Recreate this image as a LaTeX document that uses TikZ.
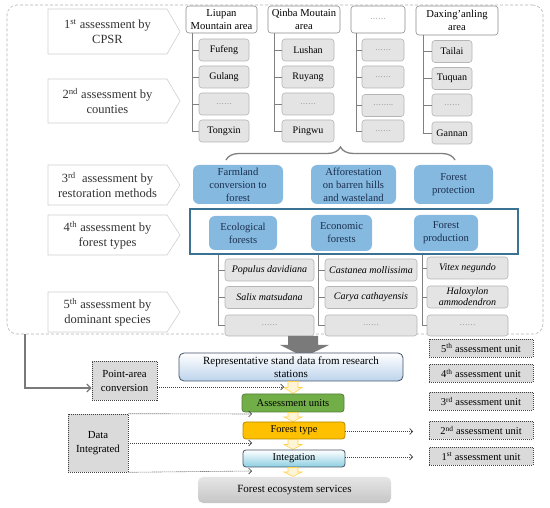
\documentclass[tikz,border=0pt]{standalone}
\usepackage{fontspec}
\setmainfont{Liberation Serif}
\usetikzlibrary{arrows.meta,decorations.pathreplacing,calc}
\definecolor{labtext}{HTML}{333333}
\definecolor{pentborder}{HTML}{CFCFCF}
\definecolor{hdborder}{HTML}{8C8C8C}
\definecolor{sbborder}{HTML}{B5B5B5}
\definecolor{sbfill}{HTML}{E4E4E4}
\definecolor{treegray}{HTML}{808080}
\definecolor{bluefill}{HTML}{86B9E0}
\definecolor{navy}{HTML}{1B2F4E}
\definecolor{framecol}{HTML}{3B7294}
\definecolor{outergray}{HTML}{B3B3B3}
\definecolor{arrowgray}{HTML}{7A7A7A}
\definecolor{repborder}{HTML}{44546A}
\definecolor{repblue}{HTML}{BDD4EC}
\definecolor{greenfill}{HTML}{72AE48}
\definecolor{greenborder}{HTML}{52803A}
\definecolor{goldfill}{HTML}{FFC000}
\definecolor{goldborder}{HTML}{B88A00}
\definecolor{cyanbot}{HTML}{8CCFE2}
\definecolor{yfill}{HTML}{FFF5D6}
\definecolor{yborder}{HTML}{FFD24D}
\definecolor{unitfill}{HTML}{DADADA}
\definecolor{dotgray}{HTML}{404040}
\newcommand\pentbox[4]{%
  \draw[pentline] (48,#2) -- (167,#2) -- (180,{(#2+#3)/2}) -- (167,#3) -- (48,#3) -- cycle;
  \node[penttext] (#1) at (107.5,{(#2+#3)/2}) {#4};}
\newcommand\myyarrow[3]{%
  \draw[yarrowst] ({#1-5},#2) -- ({#1+5},#2) -- ({#1+5},{#2+0.5*(#3-#2)}) -- ({#1+9},{#2+0.5*(#3-#2)}) -- (#1,#3) -- ({#1-9},{#2+0.5*(#3-#2)}) -- ({#1-5},{#2+0.5*(#3-#2)}) -- cycle;}
\begin{document}
\begin{tikzpicture}[x=1pt,y=-1pt,
  wh/.style 2 args={minimum width=#1pt,minimum height=#2pt},
  every node/.style={inner sep=0pt, align=center},
  headbox/.style={draw=hdborder, fill=white, rounded corners=3pt, line width=0.6pt, font=\fontsize{10.6}{12.6}\selectfont},
  subbox/.style={draw=sbborder, fill=sbfill, rounded corners=3pt, line width=0.6pt, font=\fontsize{10}{12}\selectfont},
  spbox/.style={subbox, font=\fontsize{10}{12}\selectfont\itshape},
  bluebox/.style={fill=bluefill, rounded corners=6pt, text=navy, font=\fontsize{10.6}{13}\selectfont},
  penttext/.style={text=labtext, font=\fontsize{12.5}{15}\selectfont},
  pentline/.style={draw=pentborder, fill=white, line width=0.6pt},
  tree/.style={draw=treegray, line width=0.8pt},
  dotarrow/.style={draw=dotgray, line width=0.6pt, dash pattern=on 1pt off 1pt, -{Straight Barb[length=3pt,width=6pt]}},
  unitbox/.style={draw=dotgray, fill=unitfill, dash pattern=on 1pt off 1pt, line width=0.6pt, font=\fontsize{10.5}{12}\selectfont},
  yarrowst/.style={draw=yborder, fill=yfill, line width=0.6pt},
  grayarrow/.style={draw=arrowgray, line width=1.3pt, -{Straight Barb[length=4pt,width=8pt]}},
  stage/.style={rounded corners=3pt, line width=0.8pt, font=\fontsize{10.5}{12}\selectfont}
]
\useasboundingbox (0,0) rectangle (550,508);
% outer dashed region
\node[draw=outergray, dash pattern=on 3pt off 2pt, line width=0.6pt, rounded corners=10pt, wh={536}{329}] (outer) at (275,169.5) {};
% left labels
\pentbox{l1}{9}{54}{1\textsuperscript{st} assessment by\\CPSR}
\pentbox{l2}{79}{123}{2\textsuperscript{nd} assessment by\\counties}
\pentbox{l3}{165}{205}{3\textsuperscript{rd}\ \ assessment by\\restoration methods}
\pentbox{l4}{215}{255}{4\textsuperscript{th} assessment by\\forest types}
\pentbox{l5}{292}{332}{5\textsuperscript{th} assessment by\\dominant species}
% headers
\node[headbox, wh={71}{27}] (H1) at (221.5,19.5) {Liupan\\Mountain area};
\node[headbox, wh={72}{27}] (H2) at (304,19.5) {Qinba Moutain\\area};
\node[headbox, wh={54}{27}] (H3) at (378,19.5) {\textcolor{gray}{\fontsize{8}{9}\selectfont ……}};
\node[headbox, wh={82}{29}] (H4) at (457,20.5) {Daxing’anling\\area};
% column 1
\node[subbox, wh={50}{22}] (A1) at (224,50) {Fufeng};
\node[subbox, wh={50}{22}] (A2) at (224,77) {Gulang};
\node[subbox, wh={50}{22}] (A3) at (224,104) {\textcolor{gray}{\fontsize{8}{9}\selectfont ……}};
\node[subbox, wh={50}{22}] (A4) at (224,131) {Tongxin};
% column 2
\node[subbox, wh={52}{22}] (B1) at (308,50) {Lushan};
\node[subbox, wh={52}{22}] (B2) at (308,77) {Ruyang};
\node[subbox, wh={52}{22}] (B3) at (308,104) {\textcolor{gray}{\fontsize{8}{9}\selectfont ……}};
\node[subbox, wh={52}{22}] (B4) at (308,131) {Pingwu};
% column 3
\node[subbox, wh={42}{22}] (C1) at (383,50) {\textcolor{gray}{\fontsize{8}{9}\selectfont ……}};
\node[subbox, wh={42}{22}] (C2) at (383,77) {\textcolor{gray}{\fontsize{8}{9}\selectfont ……}};
\node[subbox, wh={42}{22}] (C3) at (383,105.5) {\textcolor{gray}{\fontsize{8}{9}\selectfont ……..}};
\node[subbox, wh={42}{22}] (C4) at (383,131) {\textcolor{gray}{\fontsize{8}{9}\selectfont ……}};
% column 4
\node[subbox, wh={40}{22}] (D1) at (452,51.5) {Tailai};
\node[subbox, wh={40}{22}] (D2) at (452,78.5) {Tuquan};
\node[subbox, wh={40}{22}] (D3) at (452,105) {\textcolor{gray}{\fontsize{8}{9}\selectfont ……}};
\node[subbox, wh={40}{22}] (D4) at (452,133) {Gannan};
% tree lines
\coordinate (ta) at ($(A1.west)+(-6,0)$);
\coordinate (tb) at ($(B1.west)+(-7,0)$);
\coordinate (tc) at ($(C1.west)+(-5,0)$);
\coordinate (td) at ($(D1.west)+(-8,0)$);
\draw[tree] (ta |- H1.south) |- (A4.west);
\draw[tree] (tb |- H2.south) |- (B4.west);
\draw[tree] (tc |- H3.south) |- (C4.west);
\draw[tree] (td |- H4.south) |- (D4.west);
\foreach \n in {A1,A2,A3} \draw[tree] (\n.west) -- (\n.west -| ta);
\foreach \n in {B1,B2,B3} \draw[tree] (\n.west) -- (\n.west -| tb);
\foreach \n in {C1,C2,C3} \draw[tree] (\n.west) -- (\n.west -| tc);
\foreach \n in {D1,D2,D3} \draw[tree] (\n.west) -- (\n.west -| td);
% brace
\draw[draw=treegray, line width=1.3pt, decorate, decoration={brace, amplitude=13pt}] (226,160) -- (455,160);
% restoration methods
\node[bluebox, wh={90}{39}] (R1) at (238,184.5) {Farmland\\conversion to\\forest};
\node[bluebox, wh={85}{39}] (R2) at (353.5,184.5) {Afforestation\\on barren hills\\and wasteland};
\node[bluebox, wh={79}{39}] (R3) at (453.5,184.5) {Forest\\protection};
% forest types frame
\node[draw=framecol, line width=1.2pt, wh={328}{45}] (frame) at (354,231.5) {};
\node[bluebox, wh={68}{34}] (E1) at (243,233) {Ecological\\forests};
\node[bluebox, wh={61}{36}] (E2) at (341.5,233) {Economic\\forests};
\node[bluebox, wh={64}{36}] (E3) at (446,233) {Forest\\production};
% species
\node[spbox, wh={89}{22}] (S1) at (269.5,270) {Populus davidiana};
\node[spbox, wh={89}{22}] (S2) at (269.5,297.5) {Salix matsudana};
\node[subbox, wh={89}{21}] (S3) at (269.5,325.5) {\textcolor{gray}{\fontsize{8}{9}\selectfont ……}};
\node[spbox, wh={92}{22}] (T1) at (371,270) {Castanea mollissima};
\node[spbox, wh={92}{22}] (T2) at (371,297.5) {Carya cathayensis};
\node[subbox, wh={92}{21}] (T3) at (371,325.5) {\textcolor{gray}{\fontsize{8}{9}\selectfont ……}};
\node[spbox, wh={81}{22}] (U1) at (467.5,268) {Vitex negundo};
\node[spbox, wh={81}{22}, font=\fontsize{10}{11}\selectfont\itshape] (U2) at (467.5,297) {Haloxylon\\ammodendron};
\node[subbox, wh={81}{21}] (U3) at (467.5,325.5) {\textcolor{gray}{\fontsize{8}{9}\selectfont ……}};
\coordinate (sa) at ($(S1.west)+(-6,0)$);
\coordinate (sb) at ($(T1.west)+(-6,0)$);
\coordinate (sc) at ($(U1.west)+(-4,0)$);
\draw[tree] (sa |- frame.south) |- (S3.west);
\draw[tree] (sb |- frame.south) |- (T3.west);
\draw[tree] (sc |- frame.south) |- (U3.west);
\foreach \n in {S1,S2} \draw[tree] (\n.west) -- (\n.west -| sa);
\foreach \n in {T1,T2} \draw[tree] (\n.west) -- (\n.west -| sb);
\foreach \n in {U1,U2} \draw[tree] (\n.west) -- (\n.west -| sc);
% big gray arrow
\fill[arrowgray] (288,336) -- (318,336) -- (318,345) -- (329,345) -- (304,357) -- (280,345) -- (288,345) -- cycle;
% pipeline
\node[stage, draw=repborder, top color=white, bottom color=repblue, rounded corners=5pt, wh={224}{28}, font=\fontsize{11}{13}\selectfont] (rep) at (291,367) {Representative stand data from research\\stations};
\myyarrow{293}{381.5}{393.5}
\node[stage, draw=greenborder, fill=greenfill, wh={102}{18}] (au) at (293,403) {Assessment units};
\myyarrow{293}{412.5}{421.5}
\node[stage, draw=goldborder, fill=goldfill, wh={102}{17}] (ft) at (294,430.5) {Forest type};
\myyarrow{293}{439.5}{449.5}
\node[stage, draw=repborder, top color=white, bottom color=cyanbot, wh={102}{17}] (ig) at (294,458.5) {Integation};
\myyarrow{293}{467.5}{476.5}
\node[stage, draw=none, top color=gray!20, bottom color=gray!45, rounded corners=5pt, wh={193}{26}, font=\fontsize{11}{13}\selectfont] (fes) at (294.5,490) {Forest ecosystem services};
% left dotted boxes
\node[unitbox, wh={65}{39}, font=\fontsize{10.8}{14}\selectfont] (pa) at (124.5,380.5) {Point-area\\conversion};
\node[unitbox, wh={60}{58}, font=\fontsize{10.8}{14}\selectfont] (data) at (98,443) {Data\\Integrated};
\coordinate (lt) at (25,0);
\draw[grayarrow] (outer.south -| lt) |- ([yshift=-7.5pt]pa.west);
\coordinate (e1) at (284,387);
\coordinate (e2) at (252,414);
\coordinate (e3) at (252,443);
\coordinate (e4) at (252,471);
\draw[dotarrow] ([yshift=-6.5pt]pa.east) -- (e1);
\draw[dotarrow] (data.north east) -- (e2);
\draw[dotarrow] (data.east) -- (e3);
\draw[dotarrow] (data.south east) -- (e4);
% right unit boxes
\node[unitbox, wh={104}{18}] (u5) at (481,348) {5\textsuperscript{th} assessment unit};
\node[unitbox, wh={104}{18}] (u4) at (481,373.5) {4\textsuperscript{th} assessment unit};
\node[unitbox, wh={104}{18}] (u3) at (481,401.5) {3\textsuperscript{rd} assessment unit};
\node[unitbox, wh={104}{18}] (u2) at (481,430.5) {2\textsuperscript{nd} assessment unit};
\node[unitbox, wh={104}{18}] (u1) at (481,456.5) {1\textsuperscript{st} assessment unit};
\coordinate (e5) at (413,431.5);
\coordinate (e6) at (413,457);
\draw[dotarrow] (ft.east |- e5) -- (e5);
\draw[dotarrow] (ig.east |- e6) -- (e6);
\end{tikzpicture}
\end{document}
